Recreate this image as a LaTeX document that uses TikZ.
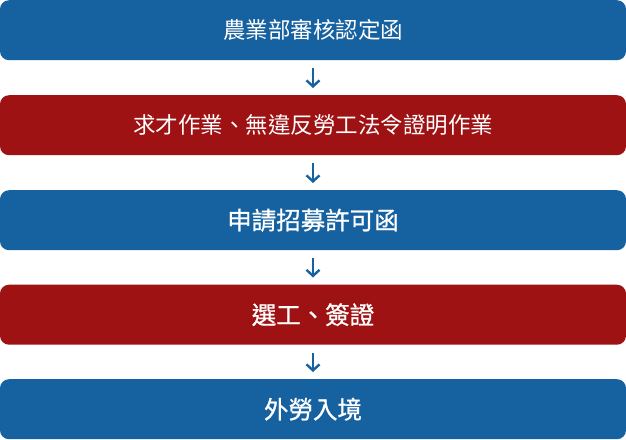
\documentclass[tikz,border=0pt]{standalone}
\usepackage{fontspec}
\newfontfamily\cjk{Noto Sans CJK TC}
\newfontfamily\cjkmed[FakeBold=0.9]{Noto Sans CJK TC}
\usetikzlibrary{arrows.meta}
\definecolor{stepblue}{RGB}{22,97,160}
\definecolor{stepred}{RGB}{158,18,20}
\begin{document}
\begin{tikzpicture}[x=1pt,y=1pt,
  stepbox/.style={rounded corners=9pt, minimum width=626pt, minimum height=60pt, inner sep=0pt, text=white, anchor=north},
  smalltxt/.style={font=\cjk\fontsize{22.5pt}{26pt}\selectfont},
  bigtxt/.style={font=\cjkmed\fontsize{24.5pt}{28pt}\selectfont},
  flowarrow/.style={draw=stepblue, line width=2.4pt, -{Straight Barb[length=6pt,width=13pt,line width=2.4pt]}}]
\useasboundingbox (0,0) rectangle (626,-439);
\node[stepbox, fill=stepblue, smalltxt] (b1) at (313,0) {農業部審核認定函};
\node[stepbox, fill=stepred, smalltxt] (b2) at (313,-95) {求才作業、無違反勞工法令證明作業};
\node[stepbox, fill=stepblue, bigtxt] (b3) at (313,-190) {申請招募許可函};
\node[stepbox, fill=stepred, bigtxt] (b4) at (313,-284.5) {選工、簽證};
\node[stepbox, fill=stepblue, bigtxt] (b5) at (313,-379) {外勞入境};
\draw[flowarrow] ([yshift=-8pt]b1.south) -- ([yshift=7pt]b2.north);
\draw[flowarrow] ([yshift=-8pt]b2.south) -- ([yshift=7pt]b3.north);
\draw[flowarrow] ([yshift=-8pt]b3.south) -- ([yshift=7pt]b4.north);
\draw[flowarrow] ([yshift=-8pt]b4.south) -- ([yshift=7pt]b5.north);
\end{tikzpicture}
\end{document}
